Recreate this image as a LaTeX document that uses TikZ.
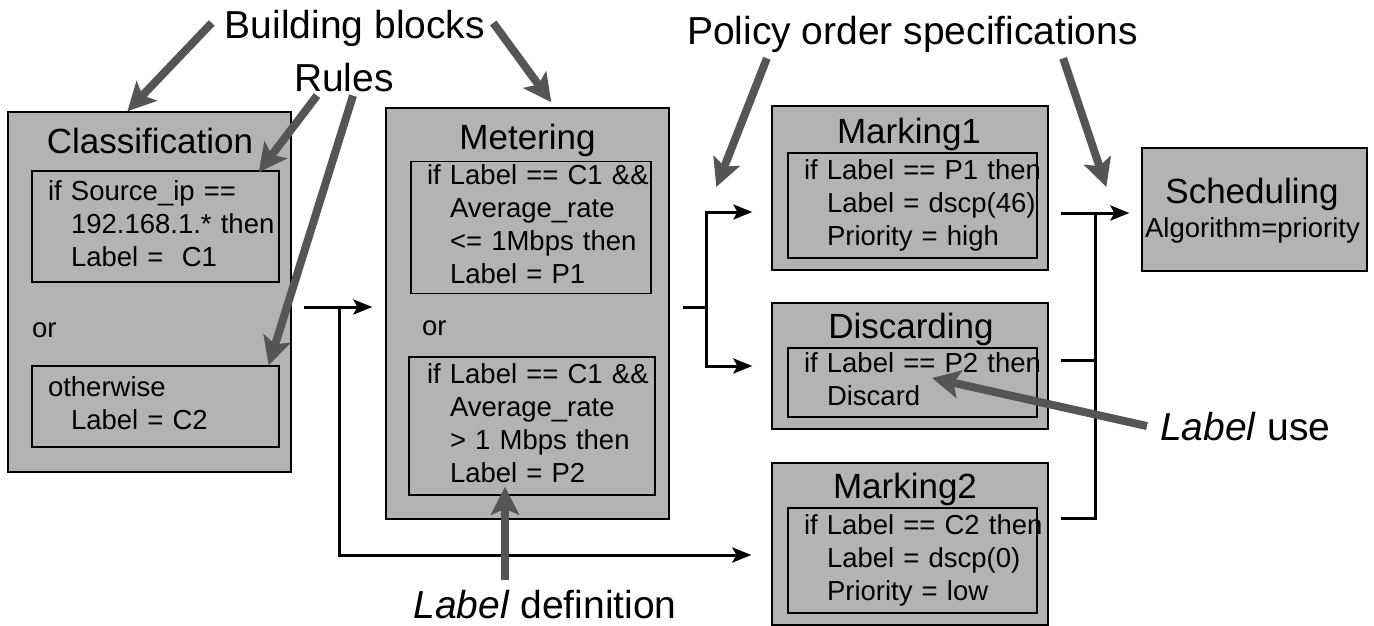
\documentclass[tikz,border=0pt]{standalone}
\usepackage{fontspec}
\setmainfont{Liberation Sans}
\usetikzlibrary{arrows.meta, calc}

\definecolor{boxgray}{RGB}{179,179,179}
\definecolor{notegray}{RGB}{85,85,85}

\newcommand{\ruletab}[1]{\begin{tabular}{@{}l@{}}#1\end{tabular}}
\newcommand{\stepin}{\hspace*{23pt}}

\tikzset{
	block/.style={draw, line width=1.3pt, fill=boxgray, inner sep=0pt},
	title/.style={anchor=base, inner sep=0pt, font=\fontsize{35}{40}\selectfont},
	rulebox/.style={draw, line width=1.3pt, inner xsep=16pt, inner ysep=0pt, text width=#1, align=left, font=\fontsize{27.5}{33}\selectfont},
	small/.style={inner sep=0pt, font=\fontsize{27.5}{33}\selectfont},
	note/.style={anchor=base, inner sep=0pt, font=\fontsize{39}{44}\selectfont},
	wire/.style={line width=3pt},
	flow/.style={wire, -{Stealth[length=19pt, width=15pt, inset=4pt]}},
	pointer/.style={line width=8pt, draw=notegray, -{Stealth[length=28pt, width=28pt, inset=6pt]}}
}

\begin{document}
\begin{tikzpicture}[x=1pt, y=-1pt]
	\useasboundingbox (0, 0) rectangle (1374, 626);

	% building blocks
	\node[block, minimum width=283pt, minimum height=360pt] (class) at (149.5, 292) {};
	\node[block, minimum width=283pt, minimum height=411pt] (meter) at (527.5, 313.5) {};
	\node[block, minimum width=276pt, minimum height=164pt] (mark1) at (910, 188) {};
	\node[block, minimum width=276pt, minimum height=126pt] (discard) at (910, 366) {};
	\node[block, minimum width=276pt, minimum height=162pt] (mark2) at (910, 544) {};
	\node[block, minimum width=225pt, minimum height=123pt] (sched) at (1254.5, 209.5) {};

	\node[title] (classTitle) at (150, 153) {Classification};
	\node[title] (meterTitle) at (527.5, 149) {Metering};
	\node[title] (mark1Title) at (909, 143) {Marking1};
	\node[title] (discardTitle) at (911, 338) {Discarding};
	\node[title] (mark2Title) at (905, 498) {Marking2};
	\node[title] (schedTitle) at (1252, 203) {Scheduling};
	\node[small, anchor=base] (schedAlgo) at (1252.5, 237) {Algorithm=priority};

	% rules
	\node[rulebox=215pt, minimum height=111pt] (classRuleA) at (155.5, 226.5)
		{\ruletab{if Source\_ip ==\\ \stepin 192.168.1.* then\\ \stepin Label = \ C1}};
	\node[rulebox=215pt, minimum height=81pt] (classRuleB) at (155.5, 406.5)
		{\ruletab{otherwise\\ \stepin Label = C2}};
	\node[rulebox=208pt, minimum height=131pt] (meterRuleA) at (531, 227.5)
		{\ruletab{if Label == C1 \&\&\\ \stepin Average\_rate\\ \stepin <= 1Mbps then\\ \stepin Label = P1}};
	\node[rulebox=210pt, minimum height=138pt, inner xsep=18pt] (meterRuleB) at (532, 426)
		{\ruletab{if Label == C1 \&\&\\ \stepin Average\_rate\\ \stepin > 1 Mbps then\\ \stepin Label = P2}};
	\node[rulebox=217pt, minimum height=105pt] (mark1Rule) at (912.5, 205.5)
		{\ruletab{if Label == P1 then\\ \stepin Label = dscp(46)\\ \stepin Priority = high}};
	\node[rulebox=217pt, minimum height=69pt] (discardRule) at (912.5, 382.5)
		{\ruletab{if Label == P2 then\\ \stepin Discard}};
	\node[rulebox=217pt, minimum height=105pt] (mark2Rule) at (912.5, 560.5)
		{\ruletab{if Label == C2 then\\ \stepin Label = dscp(0)\\ \stepin Priority = low}};

	\node[small, anchor=base west] (classOr) at (32, 337) {or};
	\node[small, anchor=base west] (meterOr) at (422, 335) {or};

	% packet flow
	\coordinate (fork) at (339, 307);
	\coordinate (branch) at (706, 307);
	\coordinate (merge) at (1095, 213);

	\draw[flow, shorten <=12pt, shorten >=13pt] (fork -| class.east) -- (fork -| meter.west);
	\draw[flow, shorten >=20pt] (fork) |- ([yshift=-11pt]mark2.west);
	\draw[wire, shorten <=13pt] (branch -| meter.east) -- (branch);
	\draw[flow, shorten >=19pt] (branch) |- ([yshift=-24pt]mark1.west);
	\draw[flow, shorten >=19pt] (branch) |- (discard.west);
	\draw[flow, shorten <=12pt, shorten >=12pt] (merge -| mark1.east) -- (merge -| sched.west);
	\draw[wire, shorten <=12pt] ([yshift=6pt]discard.east) -| (merge);
	\draw[wire, shorten <=12pt] ([yshift=26pt]mark2.east) -| (merge);

	% annotations
	\node[note] (blocks) at (355, 39) {Building blocks};
	\node[note] (rules) at (344, 92) {Rules};
	\node[note] (policy) at (912.5, 45) {Policy order specifications};
	\node[note] (labelDef) at (545, 618) {\textit{Label} definition};
	\node[note, anchor=base west] (labelUse) at (1160, 440) {\textit{Label} use};

	\draw[pointer] ([shift={(-13,-6)}]blocks.west) -- ([xshift=120pt]class.north west);
	\draw[pointer] ([shift={(8,-6)}]blocks.east) -- ([shift={(166,-5)}]meter.north west);
	\draw[pointer] ([shift={(-27,3)}]rules.south) -- ([shift={(-21,2)}]classRuleA.north east);
	\draw[pointer] ([shift={(9,3)}]rules.south) -- ([xshift=-11pt]classRuleB.north east);
	\draw[pointer] ([shift={(80,5)}]policy.south west) -- ([shift={(-55,-1)}]mark1.west);
	\draw[pointer] ([shift={(-75,5)}]policy.south east) -- ([shift={(-35,-22.5)}]sched.west);
	\draw[pointer] ($(meterRuleB.south |- labelDef.north) + (-27,-10)$) -- ([shift={(-27,-9)}]meterRuleB.south);
	\draw[pointer] ([xshift=-13pt]labelUse.west) -- ([shift={(19.5,-4.5)}]discardRule.center);

\end{tikzpicture}
\end{document}
